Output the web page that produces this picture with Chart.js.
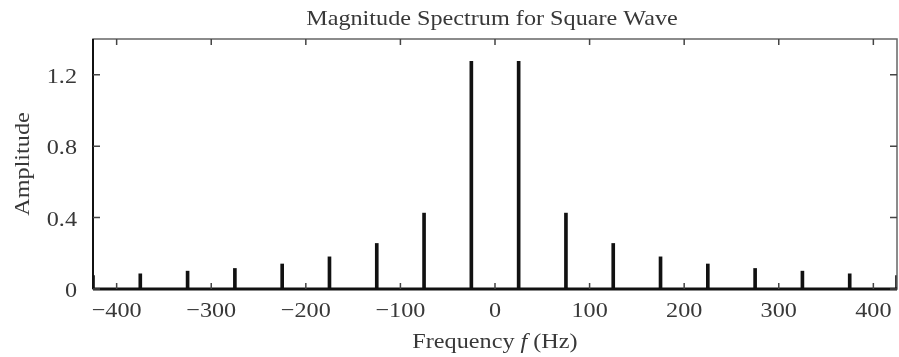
<!DOCTYPE html>
<html>
<head>
<meta charset="utf-8">
<script src="https://cdn.jsdelivr.net/npm/chart.js@4"></script>
<style>
  html, body { margin: 0; padding: 0; background: #fff; }
  #wrap { width: 899px; height: 357px; }
</style>
</head>
<body>
<div id="wrap"><canvas id="spec" width="899" height="357"></canvas></div>
<script>
// Frequencies (Hz) of the spectral lines and their amplitudes
const frequencies = [-425, -375, -325, -275, -225, -175, -125, -75, -25, 25, 75, 125, 175, 225, 275, 325, 375, 425];
const amplitudes  = [0.075, 0.085, 0.10, 0.115, 0.14, 0.18, 0.255, 0.425, 1.275, 1.275, 0.425, 0.255, 0.18, 0.14, 0.115, 0.10, 0.085, 0.075];
const xTicks = [-400, -300, -200, -100, 0, 100, 200, 300, 400];
const yTicks = [0, 0.4, 0.8, 1.2];

const FONT = "'Liberation Serif', 'DejaVu Serif', serif";
const INK = '#383838';
const SIZE = 22;
const STRETCH = 1.1; // reference text is a bit wider than plain Times

function xLabel(v) { return v < 0 ? '\u2212' + Math.abs(v) : String(v); }
function yLabel(v) { return v === 0 ? '0' : v.toFixed(1); }

// draws a run of [text, style] parts, stretched horizontally
function drawText(ctx, parts, x, y, align) {
    ctx.save();
    ctx.translate(x, y);
    ctx.scale(STRETCH, 1);
    let total = 0;
    parts.forEach(p => { ctx.font = p[1] + SIZE + 'px ' + FONT; total += ctx.measureText(p[0]).width; });
    let cx = align === 'center' ? -total / 2 : align === 'right' ? -total : 0;
    ctx.textAlign = 'left';
    ctx.textBaseline = 'alphabetic';
    parts.forEach(p => {
        ctx.font = p[1] + SIZE + 'px ' + FONT;
        ctx.fillText(p[0], cx, 0);
        cx += ctx.measureText(p[0]).width;
    });
    ctx.restore();
}

// Frame, inward ticks and text labels
const framePlugin = {
    id: 'frame',
    afterDraw(chart) {
        const { ctx, chartArea: a, scales } = chart;
        ctx.save();
        ctx.strokeStyle = '#666';
        ctx.lineWidth = 1.5;
        ctx.strokeRect(a.left, a.top, a.right - a.left, a.bottom - a.top);

        // left edge and zero baseline are darker
        ctx.strokeStyle = '#111';
        ctx.lineWidth = 3;
        ctx.beginPath();
        ctx.moveTo(a.left, a.bottom);
        ctx.lineTo(a.right, a.bottom);
        ctx.stroke();
        ctx.lineWidth = 2;
        ctx.beginPath();
        ctx.moveTo(a.left, a.top);
        ctx.lineTo(a.left, a.bottom);
        ctx.stroke();

        ctx.strokeStyle = '#444';
        ctx.lineWidth = 1.5;
        ctx.beginPath();
        xTicks.forEach(v => {
            const px = scales.x.getPixelForValue(v);
            ctx.moveTo(px, a.top); ctx.lineTo(px, a.top + 6);
            ctx.moveTo(px, a.bottom); ctx.lineTo(px, a.bottom - 6);
        });
        yTicks.forEach(v => {
            const py = scales.y.getPixelForValue(v);
            ctx.moveTo(a.left, py); ctx.lineTo(a.left + 7, py);
            ctx.moveTo(a.right, py); ctx.lineTo(a.right - 7, py);
        });
        ctx.stroke();

        ctx.fillStyle = INK;
        // tick labels
        xTicks.forEach(v => {
            drawText(ctx, [[xLabel(v), '']], scales.x.getPixelForValue(v), 317, 'center');
        });
        yTicks.forEach(v => {
            drawText(ctx, [[yLabel(v), '']], 77, scales.y.getPixelForValue(v) + 8, 'right');
        });

        // title
        const mid = (a.left + a.right) / 2;
        drawText(ctx, [['Magnitude Spectrum for Square Wave', '']], mid - 3, 25, 'center');

        // x axis title with italic f
        drawText(ctx, [['Frequency ', ''], ['f', 'italic '], [' (Hz)', '']], mid, 348, 'center');

        // y axis title
        ctx.translate(29, (a.top + a.bottom) / 2);
        ctx.rotate(-Math.PI / 2);
        drawText(ctx, [['Amplitude', '']], 0, 0, 'center');
        ctx.restore();
    }
};

new Chart(document.getElementById('spec'), {
    type: 'bar',
    data: {
        datasets: [{
            data: frequencies.map((f, i) => ({ x: f, y: amplitudes[i] })),
            backgroundColor: '#111',
            barThickness: 3,
        }],
    },
    options: {
        responsive: false,
        animation: false,
        layout: { padding: { left: 0, top: 39, right: 2, bottom: 0 } },
        plugins: { legend: { display: false }, tooltip: { enabled: false } },
        scales: {
            x: {
                type: 'linear',
                offset: false,
                min: -425,
                max: 425,
                grid: { display: false, drawTicks: false },
                border: { display: false },
                afterBuildTicks: s => { s.ticks = xTicks.map(v => ({ value: v })); },
                afterFit: s => { s.height = 68; },
                ticks: { display: false },
            },
            y: {
                min: 0,
                max: 1.4,
                grid: { display: false, drawTicks: false },
                border: { display: false },
                afterBuildTicks: s => { s.ticks = yTicks.map(v => ({ value: v })); },
                afterFit: s => { s.width = 93; },
                ticks: { display: false },
            },
        },
    },
    plugins: [framePlugin],
});
</script>
</body>
</html>
